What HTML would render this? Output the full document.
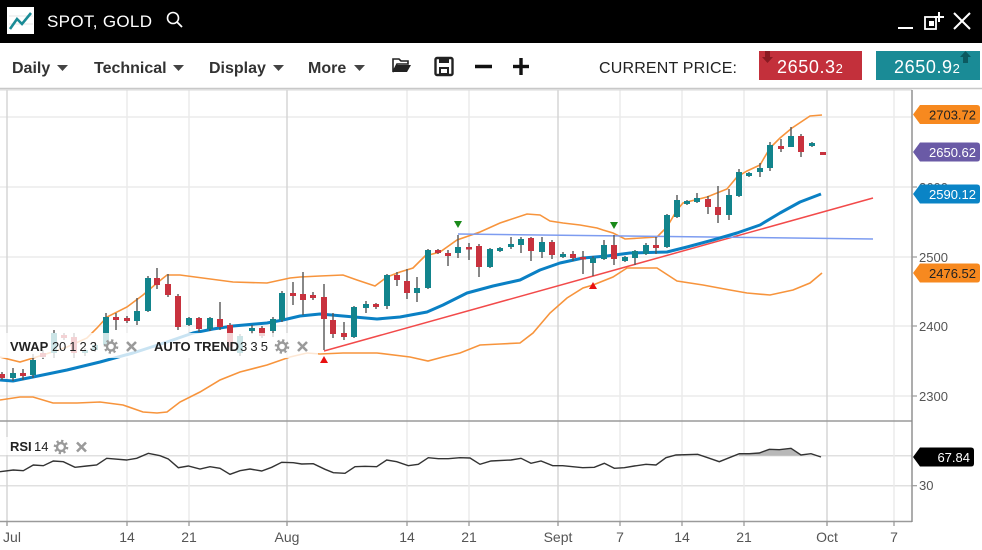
<!DOCTYPE html>
<html><head><meta charset="utf-8"><style>
html,body{margin:0;padding:0;background:#fff;}
svg{display:block;}
text{font-family:"Liberation Sans","DejaVu Sans",sans-serif;}
</style></head><body>
<svg width="982" height="550" viewBox="0 0 982 550" xmlns="http://www.w3.org/2000/svg">
<!-- top bar -->
<rect x="0" y="0" width="982" height="43" fill="#000"/>
<rect x="7" y="7" width="27" height="27" fill="#fff"/>
<line x1="9" y1="16" x2="33" y2="16" stroke="#ddd" stroke-width="0.8"/>
<line x1="9" y1="24" x2="33" y2="24" stroke="#ddd" stroke-width="0.8"/>
<polyline points="10,29 17,19 22,24 31,13" fill="none" stroke="#1a8b96" stroke-width="2.6"/>
<text x="47" y="27" fill="#fff" font-size="17" textLength="105" lengthAdjust="spacing">SPOT, GOLD</text>
<circle cx="173" cy="18" r="5.5" fill="none" stroke="#fff" stroke-width="1.6"/>
<line x1="177" y1="22" x2="182" y2="27" stroke="#fff" stroke-width="1.8"/>
<line x1="898" y1="28" x2="913" y2="28" stroke="#fff" stroke-width="2"/>
<rect x="925" y="17" width="11" height="12" fill="none" stroke="#fff" stroke-width="1.8"/>
<rect x="929" y="21" width="5" height="5" fill="#fff"/>
<line x1="939" y1="12" x2="939" y2="22" stroke="#fff" stroke-width="2"/>
<line x1="934" y1="17" x2="944" y2="17" stroke="#fff" stroke-width="2"/>
<line x1="954" y1="13" x2="970" y2="29" stroke="#fff" stroke-width="2"/>
<line x1="970" y1="13" x2="954" y2="29" stroke="#fff" stroke-width="2"/>

<!-- toolbar -->
<rect x="0" y="43" width="982" height="46" fill="#fff"/>
<line x1="0" y1="88.5" x2="982" y2="88.5" stroke="#c8c8c8" stroke-width="1.5"/>
<g font-size="16" font-weight="bold" fill="#333">
<text x="12" y="73">Daily</text>
<text x="94" y="73">Technical</text>
<text x="209" y="73">Display</text>
<text x="308" y="73">More</text>
</g>
<g fill="#444">
<polygon points="57,65 68,65 62.5,71"/>
<polygon points="173,65 184,65 178.5,71"/>
<polygon points="273,65 284,65 278.5,71"/>
<polygon points="354,65 365,65 359.5,71"/>
</g>
<!-- folder -->
<path d="M393,72 L393,59 L399,59 L401,61 L408,61 L408,64 L397,64 L393,72 Z" fill="none" stroke="#222" stroke-width="1.6"/>
<polygon points="396,65 411,65 407,72 393,72" fill="#222"/>
<!-- save -->
<rect x="435.5" y="58" width="17" height="17" rx="1.5" fill="none" stroke="#222" stroke-width="2.4"/>
<rect x="439" y="58" width="10" height="5" fill="#222"/>
<rect x="439" y="67" width="10" height="8" fill="#222"/>
<rect x="441" y="69" width="6" height="4" fill="#fff"/>
<line x1="475" y1="66.5" x2="492" y2="66.5" stroke="#111" stroke-width="3.4"/>
<line x1="513" y1="66.5" x2="529" y2="66.5" stroke="#111" stroke-width="3.4"/>
<line x1="521" y1="58" x2="521" y2="75" stroke="#111" stroke-width="3.4"/>
<text x="599" y="73" font-size="16" fill="#222" textLength="138" lengthAdjust="spacing">CURRENT PRICE:</text>
<rect x="759" y="51" width="103" height="29" fill="#c3303b"/>
<polygon points="765,51 770,51 770,57 773,57 767.5,63 762,57 765,57" fill="#8a1a22"/>
<text x="777" y="73" font-size="18" fill="#fff" letter-spacing="0.6">2650.3<tspan font-size="13">2</tspan></text>
<rect x="876" y="51" width="104" height="29" fill="#1a8b96"/>
<polygon points="963,63 968,63 968,57 971,57 965.5,51 960,57 963,57" fill="#0c5a61"/>
<text x="894" y="73" font-size="18" fill="#fff" letter-spacing="0.6">2650.9<tspan font-size="13">2</tspan></text>

<!-- grid -->
<g stroke="#ececec" stroke-width="1.5">
<line x1="0" y1="117" x2="912" y2="117"/>
<line x1="0" y1="187" x2="912" y2="187"/>
<line x1="0" y1="257" x2="912" y2="257"/>
<line x1="0" y1="326" x2="912" y2="326"/>
<line x1="0" y1="396" x2="912" y2="396"/>
<line x1="0" y1="455.7" x2="912" y2="455.7" stroke="#e0e0e0"/>
<line x1="0" y1="485.7" x2="912" y2="485.7" stroke="#e0e0e0"/>
</g>
<g stroke="#ebebeb" stroke-width="1.5">
<line x1="127" y1="90" x2="127" y2="526"/>
<line x1="189" y1="90" x2="189" y2="526"/>
<line x1="407" y1="90" x2="407" y2="526"/>
<line x1="469" y1="90" x2="469" y2="526"/>
<line x1="620" y1="90" x2="620" y2="526"/>
<line x1="682" y1="90" x2="682" y2="526"/>
<line x1="744" y1="90" x2="744" y2="526"/>
<line x1="894" y1="90" x2="894" y2="526"/>
</g>
<g stroke="#d6d6d6" stroke-width="1.5">
<line x1="7" y1="90" x2="7" y2="526"/>
<line x1="287" y1="90" x2="287" y2="526"/>
<line x1="558" y1="90" x2="558" y2="526"/>
<line x1="827" y1="90" x2="827" y2="526"/>
</g>
<line x1="0" y1="90" x2="912" y2="90" stroke="#d8d8d8" stroke-width="1"/>

<!-- bollinger -->
<polyline fill="none" stroke="#f7943c" stroke-width="1.6" points="0,357 20,362 43,355 67,347 87,338 97,328 107,317 127,307 143,295 157,283 167,275 180,275 233,282 267,283 290,278 300,277 320,276 343,275 357,280 375,286 387,277 400,272 413,268 425,256 440,252 457,240 480,232 500,223 527,214 540,215 550,221 563,223 580,225 597,228 603,230 613,233 625,239 657,237 667,227 677,210 683,203 707,197 727,189 737,177 747,171 760,165 770,148 780,138 792,128 810,116 822,115"/>
<polyline fill="none" stroke="#f7943c" stroke-width="1.6" points="0,400 20,397 33,397 53,403 77,403 100,402 123,405 143,412 157,413 167,412 180,402 200,392 220,380 240,372 267,365 290,357 307,353 320,354 343,353 377,353 410,357 428,361 443,357 460,353 480,345 500,344 520,343 533,333 550,313 567,298 583,288 593,285 613,277 627,268 657,268 677,281 703,285 730,290 747,293 770,295 793,290 810,283 822,273"/>
<!-- trend lines -->
<line x1="324" y1="351" x2="873" y2="198" stroke="#f24a4a" stroke-width="1.5"/>
<line x1="458" y1="234" x2="873" y2="239" stroke="#7d9cf0" stroke-width="1.5"/>
<!-- VWAP -->
<polyline fill="none" stroke="#0a80c4" stroke-width="3" stroke-linejoin="round" points="0,380 13,381 33,377 67,370 100,362 133,353 167,342 193,333 213,329 233,326 267,323 283,320 300,316 320,314 343,316 377,319 400,317 427,312 443,305 467,293 493,286 520,280 540,270 560,263 583,258 607,256 630,253 667,252 687,247 713,240 737,233 760,225 780,213 800,202 821,194"/>

<!-- candles -->
<g id="candles">
<g stroke="#555" stroke-width="1.4">
<line x1="2" y1="372" x2="2" y2="380"/><line x1="13" y1="368" x2="13" y2="381"/><line x1="23" y1="369" x2="23" y2="380"/><line x1="33" y1="354" x2="33" y2="378"/><line x1="43" y1="350" x2="43" y2="359"/><line x1="54" y1="330" x2="54" y2="358"/><line x1="64" y1="333" x2="64" y2="340"/><line x1="74" y1="333" x2="74" y2="358"/><line x1="85" y1="348" x2="85" y2="356"/><line x1="95" y1="342" x2="95" y2="352"/>
<line x1="106" y1="313" x2="106" y2="347"/><line x1="116" y1="313" x2="116" y2="330"/><line x1="127" y1="316" x2="127" y2="323"/><line x1="137" y1="298" x2="137" y2="325"/><line x1="148" y1="276" x2="148" y2="312"/><line x1="157" y1="268" x2="157" y2="289"/><line x1="168" y1="274" x2="168" y2="297"/><line x1="178" y1="294" x2="178" y2="330"/><line x1="189" y1="317" x2="189" y2="326"/><line x1="199" y1="317" x2="199" y2="332"/>
<line x1="210" y1="317" x2="210" y2="331"/><line x1="220" y1="302" x2="220" y2="330"/><line x1="230" y1="323" x2="230" y2="350"/><line x1="240" y1="334" x2="240" y2="356"/><line x1="252" y1="325" x2="252" y2="334"/><line x1="262" y1="326" x2="262" y2="338"/><line x1="273" y1="317" x2="273" y2="337"/><line x1="282" y1="291" x2="282" y2="322"/><line x1="293" y1="282" x2="293" y2="305"/><line x1="303" y1="272" x2="303" y2="315"/>
<line x1="313" y1="292" x2="313" y2="300"/><line x1="324" y1="284" x2="324" y2="350"/><line x1="333" y1="313" x2="333" y2="338"/><line x1="344" y1="322" x2="344" y2="340"/><line x1="354" y1="306" x2="354" y2="338"/><line x1="366" y1="301" x2="366" y2="313"/><line x1="376" y1="303" x2="376" y2="309"/><line x1="387" y1="274" x2="387" y2="309"/><line x1="397" y1="272" x2="397" y2="286"/><line x1="407" y1="269" x2="407" y2="299"/>
<line x1="417" y1="277" x2="417" y2="302"/><line x1="428" y1="249" x2="428" y2="289"/><line x1="438" y1="249" x2="438" y2="254"/><line x1="448" y1="250" x2="448" y2="266"/><line x1="458" y1="235" x2="458" y2="258"/><line x1="469" y1="243" x2="469" y2="260"/><line x1="479" y1="244" x2="479" y2="277"/><line x1="490" y1="248" x2="490" y2="268"/><line x1="500" y1="247" x2="500" y2="252"/><line x1="511" y1="237" x2="511" y2="249"/>
<line x1="521" y1="237" x2="521" y2="253"/><line x1="531" y1="237" x2="531" y2="261"/><line x1="542" y1="237" x2="542" y2="258"/><line x1="552" y1="240" x2="552" y2="259"/><line x1="563" y1="252" x2="563" y2="258"/><line x1="573" y1="251" x2="573" y2="261"/><line x1="583" y1="251" x2="583" y2="274"/><line x1="593" y1="256" x2="593" y2="276"/><line x1="604" y1="240" x2="604" y2="260"/><line x1="614" y1="235" x2="614" y2="265"/>
<line x1="625" y1="256" x2="625" y2="262"/><line x1="635" y1="250" x2="635" y2="265"/><line x1="646" y1="243" x2="646" y2="255"/><line x1="656" y1="237" x2="656" y2="254"/><line x1="667" y1="214" x2="667" y2="248"/><line x1="677" y1="195" x2="677" y2="218"/><line x1="687" y1="200" x2="687" y2="205"/><line x1="697" y1="193" x2="697" y2="203"/><line x1="708" y1="196" x2="708" y2="214"/><line x1="718" y1="186" x2="718" y2="223"/>
<line x1="729" y1="189" x2="729" y2="220"/><line x1="739" y1="169" x2="739" y2="197"/><line x1="749" y1="172" x2="749" y2="177"/><line x1="760" y1="163" x2="760" y2="177"/><line x1="770" y1="142" x2="770" y2="171"/><line x1="781" y1="139" x2="781" y2="152"/><line x1="791" y1="127" x2="791" y2="147"/><line x1="801" y1="134" x2="801" y2="157"/><line x1="812" y1="142" x2="812" y2="147"/>
</g>
<g fill="#c8323e">
<rect x="-1" y="374" width="6" height="4"/><rect x="20" y="373" width="6" height="3"/><rect x="40" y="353" width="6" height="4"/><rect x="61" y="335" width="6" height="3"/><rect x="71" y="337" width="6" height="16"/>
<rect x="113" y="317" width="6" height="3"/><rect x="124" y="318" width="6" height="3"/><rect x="154" y="278" width="6" height="7"/><rect x="165" y="284" width="6" height="11"/><rect x="175" y="296" width="6" height="31"/><rect x="196" y="318" width="6" height="11"/><rect x="217" y="319" width="6" height="8"/><rect x="227" y="325" width="6" height="22"/><rect x="259" y="328" width="6" height="8"/>
<rect x="290" y="293" width="6" height="3"/><rect x="300" y="294" width="6" height="6"/><rect x="310" y="295" width="6" height="3"/><rect x="321" y="297" width="6" height="22"/><rect x="330" y="320" width="6" height="14"/><rect x="341" y="333" width="6" height="4"/><rect x="373" y="304" width="6" height="3"/><rect x="394" y="275" width="6" height="5"/><rect x="404" y="281" width="6" height="12"/>
<rect x="435" y="250" width="6" height="3"/><rect x="445" y="253" width="6" height="3"/><rect x="466" y="247" width="6" height="2.5"/><rect x="476" y="246" width="6" height="21"/><rect x="528" y="238" width="6" height="13"/><rect x="549" y="242" width="6" height="13"/><rect x="570" y="254" width="6" height="4"/><rect x="580" y="257" width="6" height="2.5"/><rect x="611" y="245" width="6" height="14"/>
<rect x="653" y="245" width="6" height="3"/><rect x="705" y="199" width="6" height="8"/><rect x="715" y="207" width="6" height="8"/><rect x="778" y="146" width="6" height="3"/><rect x="798" y="136" width="6" height="16"/><rect x="820" y="152" width="6" height="3"/>
</g>
<g fill="#12848c">
<rect x="10" y="373" width="6" height="5"/><rect x="30" y="360" width="6" height="15"/><rect x="51" y="333" width="6" height="20"/><rect x="82" y="350" width="6" height="3"/><rect x="92" y="345" width="6" height="5"/>
<rect x="103" y="317" width="6" height="28"/><rect x="134" y="311" width="6" height="10"/><rect x="145" y="278" width="6" height="33"/><rect x="186" y="318" width="6" height="7"/><rect x="207" y="318" width="6" height="11"/><rect x="237" y="336" width="6" height="17"/><rect x="249" y="328" width="6" height="3"/><rect x="270" y="319" width="6" height="12"/><rect x="279" y="293" width="6" height="27"/>
<rect x="351" y="307" width="6" height="30"/><rect x="363" y="304" width="6" height="4"/><rect x="384" y="275" width="6" height="31"/><rect x="414" y="288" width="6" height="5"/><rect x="425" y="250" width="6" height="38"/><rect x="455" y="247" width="6" height="6"/><rect x="487" y="249" width="6" height="18"/><rect x="497" y="248" width="6" height="3"/><rect x="508" y="244" width="6" height="3"/>
<rect x="518" y="239" width="6" height="6"/><rect x="539" y="242" width="6" height="10"/><rect x="560" y="254" width="6" height="3"/><rect x="590" y="258" width="6" height="5"/><rect x="601" y="245" width="6" height="14"/><rect x="622" y="257" width="6" height="4"/><rect x="632" y="251" width="6" height="7"/><rect x="643" y="245" width="6" height="9"/><rect x="664" y="215" width="6" height="32"/>
<rect x="674" y="200" width="6" height="17"/><rect x="684" y="201" width="6" height="3"/><rect x="694" y="198" width="6" height="4"/><rect x="726" y="195" width="6" height="20"/><rect x="736" y="172" width="6" height="24"/><rect x="746" y="173" width="6" height="3"/><rect x="757" y="168" width="6" height="4"/><rect x="767" y="145" width="6" height="23"/><rect x="788" y="136" width="6" height="11"/><rect x="809" y="143" width="6" height="3"/>
</g>
</g>
<!-- markers -->
<polygon points="454,221 462,221 458,228" fill="#1a8a1a"/>
<polygon points="610,222 618,222 614,229" fill="#1a8a1a"/>
<polygon points="320,363 328,363 324,356" fill="#e81010"/>
<polygon points="589,289 597,289 593,282" fill="#e81010"/>

<!-- legend overlay -->
<rect x="0" y="333" width="318" height="25" fill="#fff" fill-opacity="0.78"/>
<g font-size="13" fill="#222">
<text x="10" y="351" font-weight="bold">VWAP</text>
<text x="52" y="351" textLength="45" lengthAdjust="spacing">20 1 2 3</text>
<text x="154" y="351" font-weight="bold">AUTO TREND</text>
<text x="240" y="351" textLength="28" lengthAdjust="spacing">3 3 5</text>
</g>
<g fill="none" stroke="#9a9a9a">
<circle cx="111" cy="346.5" r="4" stroke-width="2.4"/>
<circle cx="111" cy="346.5" r="6" stroke-width="2.6" stroke-dasharray="2.2 2.5"/>
<circle cx="282" cy="346.5" r="4" stroke-width="2.4"/>
<circle cx="282" cy="346.5" r="6" stroke-width="2.6" stroke-dasharray="2.2 2.5"/>
<path d="M127,342 L136,351 M136,342 L127,351" stroke-width="2.6"/>
<path d="M298,342 L307,351 M307,342 L298,351" stroke-width="2.6"/>
</g>

<!-- panel borders & axis -->
<line x1="0" y1="421" x2="912" y2="421" stroke="#9a9a9a" stroke-width="1.6"/>
<line x1="0" y1="521.5" x2="912" y2="521.5" stroke="#9a9a9a" stroke-width="1.4"/>
<line x1="912" y1="90" x2="912" y2="522" stroke="#8a8a8a" stroke-width="1.4"/>
<g stroke="#999" stroke-width="1.2">
<line x1="912" y1="257" x2="917" y2="257"/><line x1="912" y1="326" x2="917" y2="326"/><line x1="912" y1="396" x2="917" y2="396"/><line x1="912" y1="187" x2="917" y2="187"/>
<line x1="912" y1="485.7" x2="917" y2="485.7"/>
<line x1="7" y1="521" x2="7" y2="526"/><line x1="127" y1="521" x2="127" y2="526"/><line x1="189" y1="521" x2="189" y2="526"/><line x1="287" y1="521" x2="287" y2="526"/><line x1="407" y1="521" x2="407" y2="526"/><line x1="469" y1="521" x2="469" y2="526"/><line x1="558" y1="521" x2="558" y2="526"/><line x1="620" y1="521" x2="620" y2="526"/><line x1="682" y1="521" x2="682" y2="526"/><line x1="744" y1="521" x2="744" y2="526"/><line x1="827" y1="521" x2="827" y2="526"/><line x1="894" y1="521" x2="894" y2="526"/>
</g>
<g font-size="13" fill="#555">
<text x="919" y="262">2500</text>
<text x="919" y="331">2400</text>
<text x="919" y="401">2300</text>
<text x="919" y="192">2600</text>
<text x="919" y="490">30</text>
</g>
<g font-size="14" fill="#555" text-anchor="middle">
<text x="12" y="542">Jul</text>
<text x="127" y="542">14</text>
<text x="189" y="542">21</text>
<text x="287" y="542">Aug</text>
<text x="407" y="542">14</text>
<text x="469" y="542">21</text>
<text x="558" y="542">Sept</text>
<text x="620" y="542">7</text>
<text x="682" y="542">14</text>
<text x="744" y="542">21</text>
<text x="827" y="542">Oct</text>
<text x="894" y="542">7</text>
</g>

<!-- price tags -->
<g font-size="13" text-anchor="end">
<path d="M913,114.5 L920,105 L977,105 Q980,105 980,108 L980,121 Q980,124 977,124 L920,124 Z" fill="#f7891f"/>
<text x="976" y="119.5" fill="#222">2703.72</text>
<path d="M913,152 L920,142.5 L977,142.5 Q980,142.5 980,145.5 L980,158.5 Q980,161.5 977,161.5 L920,161.5 Z" fill="#6a5aa6"/>
<text x="976" y="157" fill="#fff">2650.62</text>
<path d="M913,194 L920,184.5 L977,184.5 Q980,184.5 980,187.5 L980,200.5 Q980,203.5 977,203.5 L920,203.5 Z" fill="#0a84c6"/>
<text x="976" y="199" fill="#fff">2590.12</text>
<path d="M913,273 L920,263.5 L977,263.5 Q980,263.5 980,266.5 L980,279.5 Q980,282.5 977,282.5 L920,282.5 Z" fill="#f7891f"/>
<text x="976" y="278" fill="#222">2476.52</text>
<path d="M913,457 L920,447.5 L971,447.5 Q974,447.5 974,450.5 L974,463.5 Q974,466.5 971,466.5 L920,466.5 Z" fill="#000"/>
<text x="970" y="462" fill="#fff">67.84</text>
</g>

<!-- RSI -->
<polygon points="739,455.7 739.3,453.7 749.3,453.7 759.3,453 769.3,449.3 779.3,449.7 791,448.3 801,455 801,455.7" fill="#b8b8b8"/>
<polyline fill="none" stroke="#333" stroke-width="1.4" points="0,471.7 13.3,470 23.3,470.7 33.3,465 43.3,465.7 53.3,461 63.3,461.7 75,467.3 86.7,466 96.7,465 106.7,458.3 126.7,460 136.7,458.3 148.3,453.3 160,455.7 168.3,459 178.3,467.7 188.3,466 200,469 210,466.7 220,468.3 230,474.3 240,470.7 250,469 261.7,471 271.7,467.3 281.7,462.3 293.3,462.7 301.7,464 313.3,463.7 325,469.3 333.3,472.7 345,473.3 355,466.7 365,466.3 376.7,466.7 386.7,460 396.7,461.7 408.3,465.7 418.3,464.3 428.3,457.7 438.3,458.7 448.3,458.7 460,457.7 470,458 480,464.3 491,461 511,460 521,458.3 531,463.3 541,461 552.7,465.7 562.7,465.7 572.7,466.7 582.7,467.7 594.3,467.3 604.3,463.3 614.3,468.3 624.3,467.7 634.3,466 646,464.3 656,465 666,457.7 676,455 697.7,454.3 707.7,457.7 719.3,461.7 729.3,457.7 739.3,453.7 749.3,453.7 759.3,453 769.3,449.3 779.3,449.7 791,448.3 801,455 811,453.7 821,457"/>
<rect x="0" y="437" width="95" height="18" fill="#fff" fill-opacity="0.8"/>
<text x="10" y="451" font-size="13" font-weight="bold" fill="#222">RSI</text>
<text x="34" y="451" font-size="13" fill="#222">14</text>
<g fill="none" stroke="#9a9a9a">
<circle cx="61" cy="447" r="4" stroke-width="2.4"/>
<circle cx="61" cy="447" r="6" stroke-width="2.6" stroke-dasharray="2.2 2.5"/>
<path d="M77,442.5 L86,451.5 M86,442.5 L77,451.5" stroke-width="2.6"/>
</g>
</svg>
</body></html>
